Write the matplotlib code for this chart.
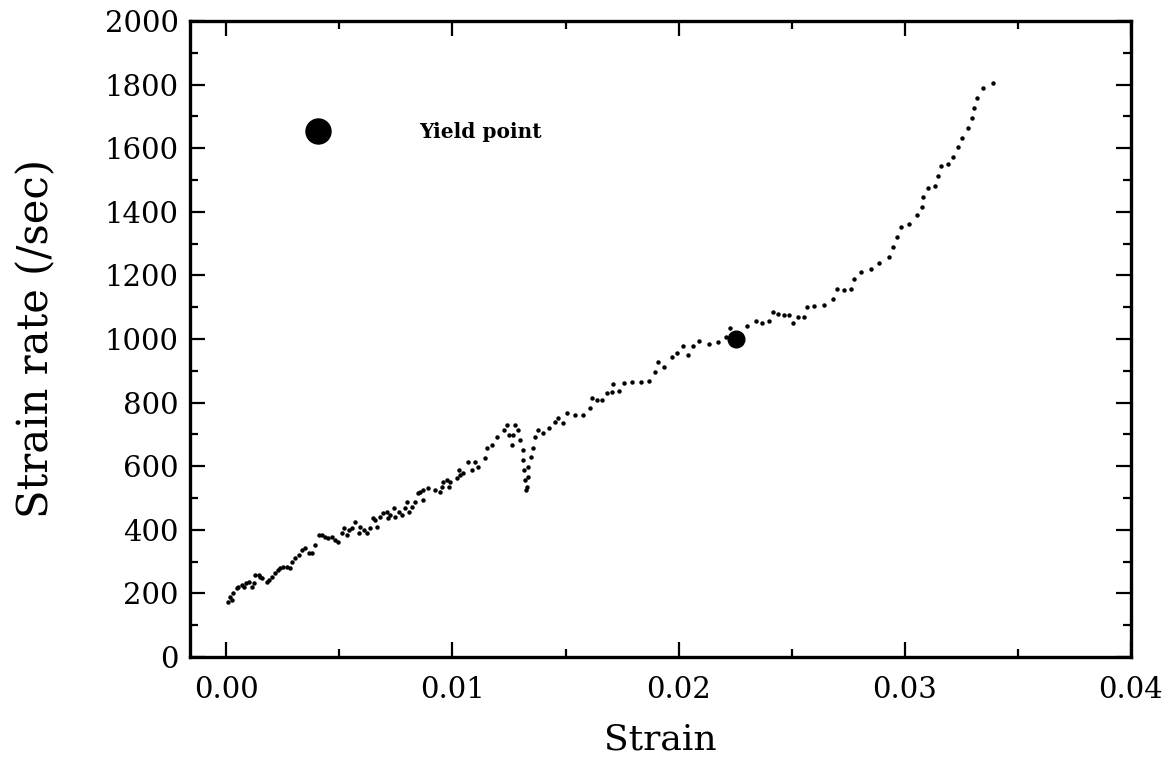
import matplotlib
matplotlib.use("Agg")
import matplotlib.pyplot as plt
from matplotlib.ticker import MultipleLocator, FormatStrFormatter

plt.rcParams['font.family'] = ['DejaVu Serif']

# Measured strain vs. strain rate (one dot per sample)
strain = [
    0.00010, 0.00018, 0.00025, 0.00032, 0.00047, 0.00054, 0.00069, 0.00077, 0.00088, 0.00099,
    0.00114, 0.00121, 0.00128, 0.00143, 0.00150, 0.00158, 0.00180, 0.00191, 0.00202, 0.00217,
    0.00231, 0.00239, 0.00253, 0.00268, 0.00283, 0.00290, 0.00305, 0.00320, 0.00335, 0.00349,
    0.00364, 0.00379, 0.00393, 0.00408, 0.00423, 0.00438, 0.00452, 0.00467, 0.00482, 0.00496,
    0.00511, 0.00519, 0.00533, 0.00541, 0.00556, 0.00570, 0.00585, 0.00592, 0.00607, 0.00622,
    0.00636, 0.00651, 0.00659, 0.00666, 0.00681, 0.00695, 0.00710, 0.00717,
    0.00725, 0.00740, 0.00747, 0.00762, 0.00777, 0.00791, 0.00799, 0.00806, 0.00821, 0.00835,
    0.00850, 0.00857, 0.00869, 0.00872, 0.00894, 0.00924, 0.00946, 0.00953, 0.00960, 0.00975,
    0.00983, 0.00990, 0.01020, 0.01027, 0.01034, 0.01049, 0.01071, 0.01086, 0.01101, 0.01115,
    0.01145, 0.01152, 0.01174, 0.01196, 0.01226, 0.01241, 0.01248, 0.01263, 0.01270, 0.01277,
    0.01292, 0.01299, 0.01311, 0.01314, 0.01317, 0.01322, 0.01329, 0.01326, 0.01336, 0.01336,
    0.01347, 0.01356, 0.01366, 0.01380, 0.01402, 0.01425, 0.01454, 0.01491,
    0.01469, 0.01506, 0.01543, 0.01579, 0.01609, 0.01616, 0.01638, 0.01661, 0.01683, 0.01705,
    0.01712, 0.01737, 0.01759, 0.01793, 0.01833, 0.01867, 0.01896, 0.01908, 0.01936, 0.01970,
    0.01995, 0.02018, 0.02043, 0.02063, 0.02091, 0.02135, 0.02176, 0.02209, 0.02228,
    0.02304, 0.02343, 0.02370, 0.02400, 0.02419, 0.02441, 0.02468, 0.02488, 0.02507, 0.02530,
    0.02555, 0.02569, 0.02600, 0.02644, 0.02681, 0.02699, 0.02731, 0.02761, 0.02776, 0.02805,
    0.02850, 0.02888, 0.02932, 0.02949, 0.02967, 0.02982, 0.03019, 0.03056,
    0.03075, 0.03082, 0.03104, 0.03134, 0.03146, 0.03160, 0.03193, 0.03215, 0.03234, 0.03254,
    0.03281, 0.03296, 0.03306, 0.03321, 0.03347, 0.03391,
]
strain_rate = [
    174, 190, 179, 200, 216, 221, 226, 221, 232, 237,
    221, 232, 258, 258, 253, 247, 237, 242, 253, 263,
    274, 279, 284, 284, 279, 300, 310, 321, 336, 342,
    326, 326, 352, 384, 384, 378, 373, 378, 368, 363,
    389, 405, 384, 399, 405, 425, 389, 410, 399, 389,
    405, 436, 431, 410, 441, 452, 457, 436,
    447, 468, 441, 457, 447, 468, 488, 457, 473, 488,
    515, 520, 494, 525, 530, 525, 520, 536, 551, 557,
    536, 551, 562, 588, 572, 578, 614, 588, 614, 598,
    625, 656, 667, 693, 714, 730, 698, 667, 698, 730,
    714, 682, 651, 619, 588, 557, 536, 525, 567, 598,
    628, 658, 693, 714, 703, 719, 740, 737,
    751, 766, 761, 761, 782, 813, 808, 808, 829, 834,
    858, 837, 863, 866, 866, 869, 897, 929, 913, 942,
    957, 978, 950, 978, 994, 985, 990, 1007, 1036,
    1041, 1055, 1049, 1055, 1086, 1079, 1074, 1074, 1051, 1068,
    1070, 1100, 1104, 1106, 1125, 1156, 1154, 1158, 1188, 1211,
    1219, 1240, 1259, 1290, 1322, 1351, 1362, 1389,
    1416, 1447, 1474, 1482, 1513, 1544, 1550, 1573, 1603, 1633,
    1664, 1694, 1725, 1757, 1788, 1804,
]

yield_strain = 0.02253
yield_rate = 1000

legend_strain = 0.00405
legend_rate = 1655
legend_text = "Yield point"

x_ticks = [0.00, 0.01, 0.02, 0.03, 0.04]
y_ticks = list(range(0, 2001, 200))

fig = plt.figure(figsize=(11.76, 7.61), dpi=100)
ax = fig.add_axes([0.1616, 0.1367, 0.8001, 0.8357])

ax.plot(strain, strain_rate, linestyle='none', marker='o', markersize=3.2,
        color='black', markeredgewidth=0)
ax.plot([yield_strain], [yield_rate], linestyle='none', marker='o',
        markersize=12, color='black')

# key for the yield marker
ax.plot([legend_strain], [legend_rate], linestyle='none', marker='o',
        markersize=18, color='black')
ax.text(0.00851, legend_rate - 5, legend_text, fontsize=14.5, fontweight='bold',
        va='center', ha='left')

ax.set_xlim(-0.0016, 0.04)
ax.set_ylim(0, 2000)
ax.set_xticks(x_ticks)
ax.set_yticks(y_ticks)
ax.xaxis.set_major_formatter(FormatStrFormatter('%.2f'))
ax.xaxis.set_minor_locator(MultipleLocator(0.005))
ax.yaxis.set_minor_locator(MultipleLocator(100))

ax.tick_params(which='both', direction='in', top=True, right=True,
               labelsize=21, width=1.6)
ax.tick_params(axis='x', pad=14)
ax.tick_params(axis='y', pad=8)
ax.tick_params(which='major', length=11)
ax.tick_params(which='minor', length=6)
for s in ax.spines.values():
    s.set_linewidth(2.4)

ax.set_xlabel("Strain", fontsize=26, labelpad=13)
ax.set_ylabel("Strain rate (/sec)", fontsize=30, labelpad=34)

fig.savefig("out.png", dpi=100)
